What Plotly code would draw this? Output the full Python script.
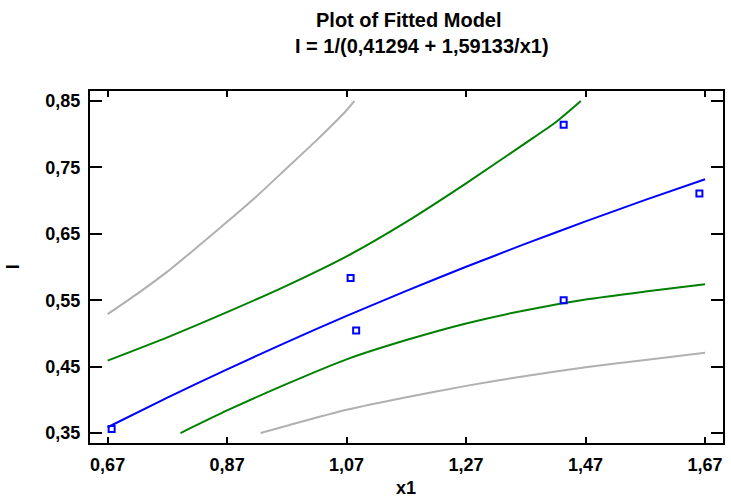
import plotly.graph_objects as go

# Observed data points
obs_x = [0.6767, 1.0767, 1.0860, 1.4333, 1.4333, 1.6605]
obs_y = [0.356, 0.5833, 0.5045, 0.8141, 0.550, 0.7106]

# Fitted model line
fit_x = [0.67, 0.77, 0.87, 0.97, 1.07, 1.17, 1.27, 1.37, 1.47, 1.57, 1.67]
fit_y = [0.3587, 0.4033, 0.4460, 0.4870, 0.5263, 0.5640, 0.6003, 0.6351, 0.6687, 0.7010, 0.7322]

# Confidence limits (green)
cu_x = [0.67, 0.77, 0.87, 0.97, 1.07, 1.17, 1.27, 1.37, 1.42, 1.462]
cu_y = [0.459, 0.494, 0.532, 0.572, 0.616, 0.668, 0.726, 0.787, 0.818, 0.850]
cl_x = [0.792, 0.87, 0.97, 1.07, 1.17, 1.27, 1.37, 1.47, 1.57, 1.67]
cl_y = [0.350, 0.384, 0.424, 0.461, 0.490, 0.515, 0.535, 0.551, 0.563, 0.574]

# Prediction limits (gray)
pu_x = [0.67, 0.72, 0.77, 0.82, 0.87, 0.92, 0.97, 1.02, 1.07, 1.083]
pu_y = [0.529, 0.560, 0.593, 0.630, 0.668, 0.707, 0.749, 0.791, 0.836, 0.850]
pl_x = [0.926, 0.97, 1.07, 1.17, 1.27, 1.37, 1.47, 1.57, 1.67]
pl_y = [0.350, 0.361, 0.385, 0.404, 0.421, 0.436, 0.449, 0.460, 0.471]

x_ticks = [0.67, 0.87, 1.07, 1.27, 1.47, 1.67]
x_labels = ["0,67", "0,87", "1,07", "1,27", "1,47", "1,67"]
y_ticks = [0.35, 0.45, 0.55, 0.65, 0.75, 0.85]
y_labels = ["0,35", "0,45", "0,55", "0,65", "0,75", "0,85"]

GRAY = "#b0b0b0"
GREEN = "#008000"
BLUE = "#0000ff"

fig = go.Figure()
for xs, ys, c in [(pu_x, pu_y, GRAY), (pl_x, pl_y, GRAY),
                  (cu_x, cu_y, GREEN), (cl_x, cl_y, GREEN),
                  (fit_x, fit_y, BLUE)]:
    fig.add_trace(go.Scatter(x=xs, y=ys, mode="lines", line_shape="spline",
                             line=dict(color=c, width=2, smoothing=0.6),
                             showlegend=False, hoverinfo="skip"))
fig.add_trace(go.Scatter(x=obs_x, y=obs_y, mode="markers", showlegend=False,
                         marker=dict(symbol="square-open", size=6,
                                     color=BLUE, line=dict(width=2, color=BLUE))))

tickfont = dict(family="Liberation Sans, Arial, sans-serif", size=18,
                color="black", weight="bold")
axis_common = dict(showline=True, linewidth=2, linecolor="black", mirror="ticks",
                   ticks="inside", tickwidth=2, tickcolor="black",
                   showgrid=False, zeroline=False, tickfont=tickfont)

fig.update_layout(
    width=731, height=497, autosize=False,
    margin=dict(l=90, r=6, t=91, b=54),
    plot_bgcolor="white", paper_bgcolor="white",
    xaxis=dict(range=[0.6405, 1.700], tickvals=x_ticks, ticktext=x_labels,
               ticklen=6, ticklabelstandoff=4, **axis_common),
    yaxis=dict(range=[0.335, 0.865], tickvals=y_ticks, ticktext=y_labels,
               ticklen=12, ticklabelstandoff=4, **axis_common),
)

title_font = dict(family="Liberation Sans Narrow, Arial Narrow, Liberation Sans, sans-serif",
                  size=20, color="black", weight="bold")
fig.add_annotation(text="Plot of Fitted Model", xref="paper", yref="paper",
                   x=(410 - 90) / 635, y=(443 - 20) / 352, xanchor="center", yanchor="middle",
                   showarrow=False, font=title_font)
fig.add_annotation(text="I = 1/(0,41294 + 1,59133/x1)", xref="paper", yref="paper",
                   x=(423 - 90) / 635, y=(443 - 46) / 352, xanchor="center", yanchor="middle",
                   showarrow=False, font=title_font)
fig.add_annotation(text="x1", xref="paper", yref="paper",
                   x=(407 - 90) / 635, y=(443 - 488) / 352,
                   xanchor="center", yanchor="middle", showarrow=False, font=tickfont)
fig.add_annotation(text="I", xref="paper", yref="paper",
                   x=(13 - 90) / 635, y=0.5, textangle=-90,
                   xanchor="center", yanchor="middle", showarrow=False, font=tickfont)

fig.write_html("out.html")
